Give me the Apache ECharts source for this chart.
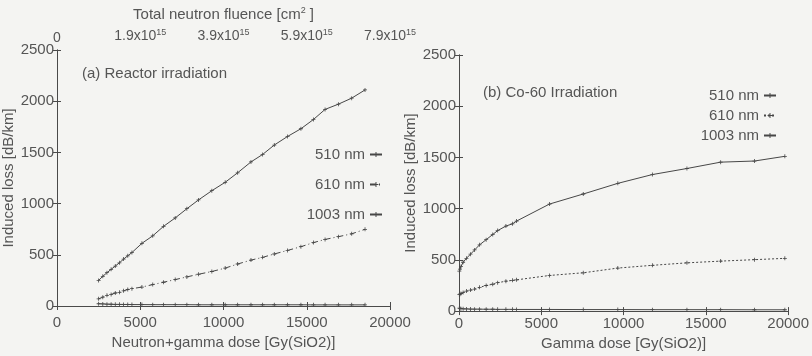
<!DOCTYPE html>
<html>
<head>
<meta charset="utf-8">
<script src="https://cdn.jsdelivr.net/npm/echarts@6/dist/echarts.min.js"></script>
<style>
  html, body { margin: 0; padding: 0; background: #f4f4f2; }
  #chart { width: 812px; height: 356px; }
</style>
</head>
<body>
<div id="chart"></div>
<script>
// (a) Reactor irradiation: induced loss vs neutron+gamma dose
const doseA = [2500, 2750, 3000, 3250, 3500, 3750, 4000, 4250, 4500, 5100, 5750, 6400, 7100, 7800,
  8500, 9300, 10100, 10850, 11650, 12350, 13050, 13850, 14650, 15400, 16100, 16900, 17700, 18500];
const lossA510 = [250, 290, 325, 358, 390, 422, 458, 490, 522, 612, 685, 778, 860, 950,
  1036, 1126, 1208, 1301, 1407, 1480, 1572, 1656, 1731, 1821, 1920, 1971, 2030, 2110];
const lossA610 = [70, 86, 104, 113, 127, 134, 148, 161, 169, 185, 209, 232, 258, 284,
  310, 337, 370, 410, 448, 475, 508, 543, 579, 619, 650, 677, 705, 749];
const lossA1003 = [22, 20, 18, 17, 16, 16, 15, 15, 14, 14, 13, 13, 13, 13,
  12, 12, 12, 12, 12, 12, 12, 12, 12, 11, 11, 11, 11, 11];

// (b) Co-60 irradiation: induced loss vs gamma dose
const doseB = [20, 60, 120, 250, 450, 700, 950, 1250, 1650, 2050, 2350, 2850, 3250, 3500,
  5500, 7550, 9650, 11750, 13850, 15900, 17950, 19800];
const lossB510 = [390, 410, 435, 477, 515, 556, 597, 647, 697, 748, 786, 830, 852, 879,
  1045, 1143, 1247, 1333, 1392, 1454, 1465, 1511];
const lossB610 = [160, 165, 172, 182, 195, 205, 215, 232, 250, 262, 277, 292, 300, 305,
  348, 374, 420, 447, 471, 488, 502, 515];
const lossB1003 = [30, 26, 24, 22, 21, 20, 19, 19, 18, 18, 17, 17, 17, 16,
  16, 15, 15, 14, 14, 14, 13, 13];

// Top axis of panel (a): fluence equivalent of each dose tick (mantissa of x10^15)
const fluenceMantissa = ['0', '1.9', '3.9', '5.9', '7.9'];
const wavelengths = ['510 nm', '610 nm', '1003 nm'];

const ink = '#474747';
const textColor = '#555';
const font = 'Liberation Sans, Arial, Helvetica, sans-serif';
const plusMark = 'path://M4,0h2v4h4v2h-4v4h-2v-4h-4v-2h4z';

const pairs = (xs, ys) => xs.map((x, i) => [x, ys[i]]);
const plain = v => String(v);

const frameLine = { show: true, lineStyle: { color: '#4a4a4a', width: 1 } };
const innerTick = { show: true, inside: true, length: 4, lineStyle: { color: '#4a4a4a' } };

function xAxisBottom(grid, name, gap, margin) {
  return {
    gridIndex: grid, type: 'value', position: 'bottom', min: 0, max: 20000, interval: 5000,
    name: name, nameLocation: 'middle', nameGap: gap,
    nameTextStyle: { fontSize: 15, color: textColor, fontFamily: font },
    axisLine: frameLine, axisTick: innerTick, splitLine: { show: false },
    axisLabel: { fontSize: 15, color: textColor, fontFamily: font, margin: margin, formatter: plain }
  };
}
function yAxisLeft(grid, gap) {
  return {
    gridIndex: grid, type: 'value', position: 'left', min: 0, max: 2500, interval: 500,
    name: 'Induced loss [dB/km]', nameLocation: 'middle', nameGap: gap,
    nameTextStyle: { fontSize: 15, color: textColor, fontFamily: font },
    axisLine: frameLine, axisTick: innerTick, splitLine: { show: false },
    axisLabel: { fontSize: 15, color: textColor, fontFamily: font, margin: 3, formatter: plain }
  };
}
function plainAxis(kind, grid, pos) {
  const ax = {
    gridIndex: grid, type: 'value', position: pos, min: 0,
    axisLine: frameLine, axisTick: innerTick, splitLine: { show: false },
    axisLabel: { show: false }
  };
  if (kind === 'x') { ax.max = 20000; ax.interval = 5000; } else { ax.max = 2500; ax.interval = 500; }
  return ax;
}

function lineSeries(name, xi, yi, data, type) {
  return {
    name: name, type: 'line', xAxisIndex: xi, yAxisIndex: yi, data: data,
    symbol: plusMark, symbolSize: 4, showSymbol: true,
    itemStyle: { color: ink },
    lineStyle: { color: ink, width: 1, type: type },
    animation: false
  };
}

const legendBase = {
  orient: 'vertical', align: 'right', itemWidth: 12, itemHeight: 6,
  selectedMode: false,
  formatter: n => '{a|' + n.trim() + '}',
  textStyle: {
    color: textColor, fontFamily: font, fontSize: 15,
    rich: { a: { width: 62, align: 'right', fontSize: 15, color: textColor, fontFamily: font, lineHeight: 16 } }
  }
};

const option = {
  backgroundColor: '#f4f4f2',
  animation: false,
  textStyle: { fontFamily: font, color: textColor },
  grid: [
    { left: 57, top: 50, width: 333, height: 256 },
    { left: 459, top: 55, width: 337, height: 260 }
  ],
  xAxis: [
    xAxisBottom(0, 'Neutron+gamma dose [Gy(SiO2)]', 27, 9),
    {
      gridIndex: 0, type: 'value', position: 'top', min: 0, max: 20000, interval: 5000,
      name: '{t|Total neutron fluence [cm}{s|2}{t| ]}', nameLocation: 'middle', nameGap: 27,
      nameTextStyle: {
        rich: {
          t: { fontSize: 15, color: textColor, fontFamily: font },
          s: { fontSize: 9, color: textColor, fontFamily: font, padding: [0, 0, 8, 0] }
        }
      },
      axisLine: frameLine, axisTick: innerTick, splitLine: { show: false },
      axisLabel: {
        margin: 5,
        formatter: v => {
          const m = fluenceMantissa[Math.round(v / 5000)];
          return m === '0' ? '{t|0}' : '{t|' + m + 'x10}{s|15}';
        },
        rich: {
          t: { fontSize: 14, color: textColor, fontFamily: font },
          s: { fontSize: 9, color: textColor, fontFamily: font, padding: [0, 0, 8, 0] }
        }
      }
    },
    xAxisBottom(1, 'Gamma dose [Gy(SiO2)]', 19, 5),
    plainAxis('x', 1, 'top')
  ],
  yAxis: [
    yAxisLeft(0, 31),
    plainAxis('y', 0, 'right'),
    yAxisLeft(1, 30),
    plainAxis('y', 1, 'right')
  ],
  legend: [
    Object.assign({}, legendBase, { data: wavelengths, left: 298, top: 142, itemGap: 15 }),
    Object.assign({}, legendBase, { data: wavelengths.map(w => w + ' '), left: 692, top: 83, itemGap: 5 })
  ],
  graphic: [
    { type: 'text', left: 82, top: 66, style: { text: '(a) Reactor irradiation', fontSize: 15, fill: textColor, fontFamily: font } },
    { type: 'text', left: 483, top: 85, style: { text: '(b) Co-60 Irradiation', fontSize: 15, fill: textColor, fontFamily: font } }
  ],
  series: [
    lineSeries('510 nm', 0, 0, pairs(doseA, lossA510), 'solid'),
    lineSeries('610 nm', 0, 0, pairs(doseA, lossA610), [6, 3, 1, 3]),
    lineSeries('1003 nm', 0, 0, pairs(doseA, lossA1003), 'solid'),
    lineSeries('510 nm ', 2, 2, pairs(doseB, lossB510), 'solid'),
    lineSeries('610 nm ', 2, 2, pairs(doseB, lossB610), [2, 2]),
    lineSeries('1003 nm ', 2, 2, pairs(doseB, lossB1003), 'solid')
  ]
};

const chart = echarts.init(document.getElementById('chart'), null, { renderer: 'canvas' });
chart.setOption(option);
</script>
</body>
</html>
